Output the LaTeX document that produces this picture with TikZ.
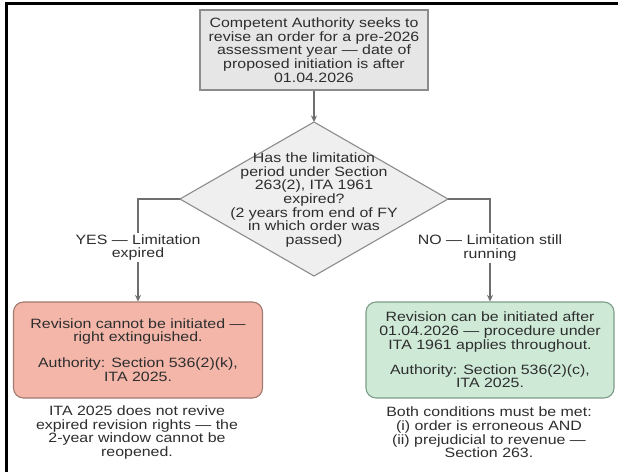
\documentclass[tikz,border=0pt]{standalone}
\usepackage{fontspec}
\setmainfont{Liberation Sans}[FakeStretch=1.18]
\usetikzlibrary{arrows.meta}
\definecolor{txt}{HTML}{2E2E2E}
\definecolor{greyfill}{HTML}{E6E6E6}
\definecolor{diafill}{HTML}{EFEFEF}
\definecolor{greyline}{HTML}{8C8C8C}
\definecolor{redfill}{HTML}{F3B6A9}
\definecolor{redline}{HTML}{A37A70}
\definecolor{greenfill}{HTML}{CEEAD7}
\definecolor{greenline}{HTML}{7E9C8A}
\definecolor{connline}{HTML}{6E6E6E}
\tikzset{
  basefont/.style={font=\fontsize{13.5}{13.7}\selectfont, text=txt, align=center},
  startbox/.style={basefont, draw=greyline, fill=greyfill, line width=1.1pt, inner sep=0pt},
  redbox/.style={basefont, draw=redline, fill=redfill, line width=1.1pt, rounded corners=10pt, inner sep=0pt},
  greenbox/.style={basefont, draw=greenline, fill=greenfill, line width=1.1pt, rounded corners=10pt, inner sep=0pt},
  diashape/.style={draw=greyline, fill=diafill, line width=1.1pt, line join=miter},
  lbl/.style={basefont, fill=white, inner sep=1.5pt},
  note/.style={basefont, inner sep=0pt},
  conn/.style={draw=connline, line width=1.1pt, -{Stealth[length=6.5pt,width=6pt]}}
}
\begin{document}
\begin{tikzpicture}[x=1pt,y=-1pt]
\useasboundingbox (0,0) rectangle (618,472);
\fill[white] (0,0) rectangle (618,472);
\draw[line width=3pt,black] (6.5,472) -- (6.5,3.5) -- (618,3.5);

\node[startbox, minimum width=228pt, minimum height=80pt] (start) at (314,50)
  {Competent Authority seeks to\\revise an order for a pre-2026\\assessment year — date of\\proposed initiation is after\\01.04.2026};

\coordinate (qt) at (314,122);
\coordinate (qr) at (448,199);
\coordinate (qb) at (314,276);
\coordinate (ql) at (180,199);
\draw[diashape] (qt) -- (qr) -- (qb) -- (ql) -- cycle;
\node[note] (q) at (314,200)
  {Has the limitation\\period under Section\\263(2), ITA 1961\\expired?\\(2 years from end of FY\\in which order was\\passed)};

\node[redbox, minimum width=249pt, minimum height=96pt] (red) at (138,350)
  {Revision cannot be initiated —\\right extinguished.\\[12pt]Authority: Section 536(2)(k),\\ITA 2025.};
\node[greenbox, minimum width=248pt, minimum height=96pt] (green) at (490,350)
  {Revision can be initiated after\\01.04.2026 — procedure under\\ITA 1961 applies throughout.\\[11.5pt]Authority: Section 536(2)(c),\\ITA 2025.};

\draw[conn] (start) -- (qt);
\draw[conn] (ql) -| (red);
\draw[conn] (qr) -| (green);

\node[lbl] (yes) at (138,247.5) {YES — Limitation\\expired};
\node[lbl] (no) at (490,248) {NO — Limitation still\\running};

\node[note] (n1) at (137,432.5)
  {ITA 2025 does not revive\\expired revision rights — the\\2-year window cannot be\\reopened.};
\node[note] (n2) at (489,432.5)
  {Both conditions must be met:\\(i) order is erroneous AND\\(ii) prejudicial to revenue —\\Section 263.};
\end{tikzpicture}
\end{document}
